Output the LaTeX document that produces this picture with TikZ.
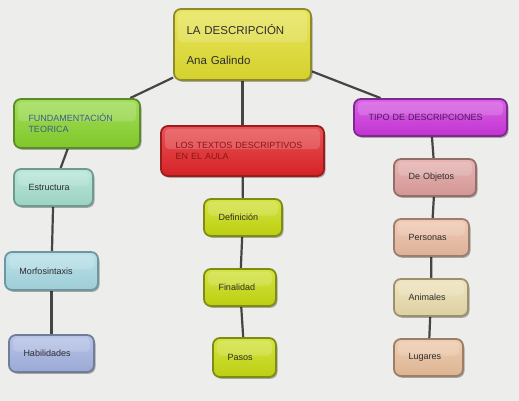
\documentclass[tikz,border=0pt]{standalone}
\usepackage{fontspec}
\setmainfont{Liberation Sans}
\usetikzlibrary{shadows,backgrounds}
\definecolor{bgc}{HTML}{EDEDEB}
\definecolor{linec}{HTML}{454545}
\definecolor{txtc}{HTML}{2E2E2E}
\definecolor{rootf}{HTML}{E2DE30}\definecolor{rootd}{HTML}{8E8C2A}
\definecolor{fundf}{HTML}{88D42C}\definecolor{fundd}{HTML}{5C8C28}\definecolor{fundt}{HTML}{3C5E88}
\definecolor{losf}{HTML}{E22428}\definecolor{losd}{HTML}{9A1C1C}\definecolor{lost}{HTML}{8E1414}
\definecolor{tipof}{HTML}{CE36DE}\definecolor{tipod}{HTML}{7C2A8C}\definecolor{tipot}{HTML}{4E1A5E}
\definecolor{estrf}{HTML}{A6E0CE}\definecolor{estrd}{HTML}{6E9A90}
\definecolor{morff}{HTML}{A8DAE4}\definecolor{morfd}{HTML}{6F96A0}
\definecolor{habif}{HTML}{A4B4E2}\definecolor{habid}{HTML}{6F7C9A}
\definecolor{ygf}{HTML}{C8DC10}\definecolor{ygd}{HTML}{7E8C14}
\definecolor{deobf}{HTML}{E0A09E}\definecolor{deobd}{HTML}{966E68}
\definecolor{persf}{HTML}{ECBCA2}\definecolor{persd}{HTML}{9C7E6E}
\definecolor{animf}{HTML}{EBDDAC}\definecolor{animd}{HTML}{9C906E}
\definecolor{lugaf}{HTML}{EAC09C}\definecolor{lugad}{HTML}{9C7E66}
\tikzset{
  mbox/.style 2 args={draw=#2, line width=1.8pt, rounded corners=7pt,
    top color=#1!78!white, bottom color=#1!94!black,
    drop shadow={shadow xshift=1.5pt, shadow yshift=-1.8pt, opacity=0.3, fill=black},
    path picture={\fill[white,opacity=0.16,rounded corners=4pt]
      ([xshift=4pt,yshift=-3pt]path picture bounding box.north west) rectangle
      ([xshift=-4pt,yshift=2pt]path picture bounding box.east);},
    align=left, inner xsep=14.5pt, inner ysep=0pt, text=txtc,
    font=\fontsize{9}{11}\selectfont},
  conn/.style={draw=linec, line width=2.2pt}
}
\begin{document}
\begin{tikzpicture}[x=1pt,y=-1pt]
\useasboundingbox (0,0) rectangle (519,401);
% nodes
\node[mbox={rootf}{rootd}, minimum width=137pt, minimum height=71pt, text width=108pt,
  font=\fontsize{11.5}{14}\selectfont, inner xsep=12.5pt, text width=112pt] (root) at (242.5,44.5) {LA DESCRIPCIÓN\\[16pt]Ana Galindo};
\node[mbox={fundf}{fundd}, minimum width=126pt, minimum height=49pt, text width=97pt, text=fundt] (fund) at (77,123.5) {FUNDAMENTACIÓN\\TEORICA};
\node[mbox={losf}{losd}, minimum width=163pt, minimum height=50pt, text width=134pt, text=lost] (los) at (242.5,151) {LOS TEXTOS DESCRIPTIVOS\\EN EL AULA};
\node[mbox={tipof}{tipod}, minimum width=153pt, minimum height=37pt, text width=124pt, text=tipot] (tipo) at (430.5,117.5) {TIPO DE DESCRIPCIONES};
\node[mbox={estrf}{estrd}, minimum width=79pt, minimum height=37pt, text width=50pt] (estr) at (53.5,187.5) {Estructura};
\node[mbox={morff}{morfd}, minimum width=93pt, minimum height=38pt, text width=64pt] (morf) at (51.5,271) {Morfosintaxis};
\node[mbox={habif}{habid}, minimum width=85pt, minimum height=37pt, text width=56pt] (habi) at (51.5,353.5) {Habilidades};
\node[mbox={ygf}{ygd}, minimum width=78pt, minimum height=37pt, text width=49pt] (defi) at (243,217.5) {Definición};
\node[mbox={ygf}{ygd}, minimum width=72pt, minimum height=37pt, text width=43pt] (fina) at (240,287.5) {Finalidad};
\node[mbox={ygf}{ygd}, minimum width=63pt, minimum height=39pt, text width=34pt] (paso) at (244.5,357.5) {Pasos};
\node[mbox={deobf}{deobd}, minimum width=82pt, minimum height=37pt, text width=53pt] (deob) at (435,177.5) {De Objetos};
\node[mbox={persf}{persd}, minimum width=75pt, minimum height=37pt, text width=46pt] (pers) at (431.5,237.5) {Personas};
\node[mbox={animf}{animd}, minimum width=74pt, minimum height=37pt, text width=45pt] (anim) at (431,297.5) {Animales};
\node[mbox={lugaf}{lugad}, minimum width=69pt, minimum height=37pt, text width=40pt] (luga) at (428.5,357.5) {Lugares};
% background and connectors
\begin{scope}[on background layer]
  \fill[bgc] (0,0) rectangle (519,401);
  \draw[conn] (root) -- (fund);
  \draw[conn] (root) -- (los);
  \draw[conn] (root) -- (tipo);
  \draw[conn] (fund) -- (estr);
  \draw[conn] (estr) -- (morf);
  \draw[conn] (morf) -- (habi);
  \draw[conn] (los) -- (defi);
  \draw[conn] (defi) -- (fina);
  \draw[conn] (fina) -- (paso);
  \draw[conn] (tipo) -- (deob);
  \draw[conn] (deob) -- (pers);
  \draw[conn] (pers) -- (anim);
  \draw[conn] (anim) -- (luga);
\end{scope}
\end{tikzpicture}
\end{document}
